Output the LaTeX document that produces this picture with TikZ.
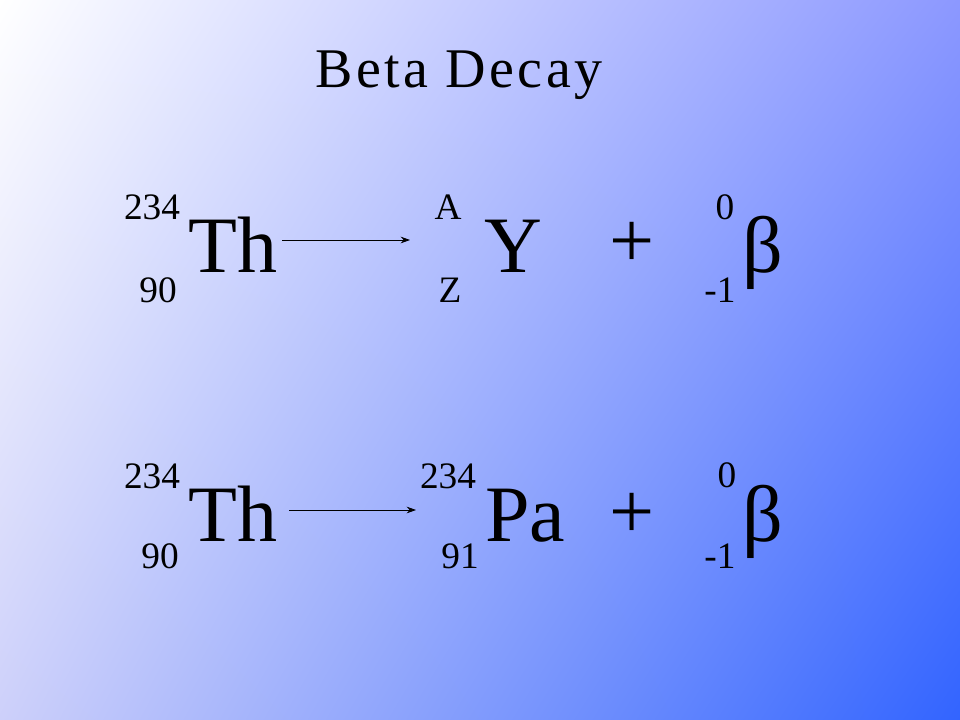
\documentclass[tikz,border=0pt]{standalone}
\usepackage{fontspec}
\setmainfont{Liberation Serif}
\usetikzlibrary{arrows.meta,shadings}
\definecolor{cUR}{RGB}{140,152,255}
\definecolor{cLL}{RGB}{205,208,250}
\definecolor{cLR}{RGB}{50,100,255}
\begin{document}
\begin{tikzpicture}[x=0.75pt,y=-0.75pt,
  big/.style={anchor=base,inner sep=0pt,font=\fontsize{60}{60}\selectfont},
  small/.style={anchor=base,inner sep=0pt,font=\fontsize{28}{28}\selectfont},
  rxn/.style={-{Stealth[length=7pt,width=5pt]},line width=0.6pt}]
\useasboundingbox (0,0) rectangle (960,720);
\shade[upper left=white, upper right=cUR, lower left=cLL, lower right=cLR] (0,0) rectangle (960,720);
\node[anchor=base,inner sep=0pt,font=\fontsize{42}{42}\selectfont\addfontfeature{LetterSpace=6}] (title) at (459,88) {Beta Decay};
% row 1
\node[small] (a1) at (152,220) {234};
\node[small] (b1) at (158,302) {90};
\node[big] (th1) at (233,273) {Th};
\node[small] (a2) at (448,220) {A};
\node[small] (b2) at (450,302) {Z};
\node[big] (y) at (513,273) {Y};
\node[big] (p1) at (632,268) {+};
\node[small] (a3) at (725,220) {0};
\node[small] (b3) at (720,302) {-1};
\node[big] (be1) at (763,273) {β};
\coordinate (s1) at (282,240); \coordinate (e1) at (410,240);
\draw[rxn] (s1) -- (e1);
% row 2
\node[small] (c1) at (152,488) {234};
\node[small] (d1) at (160,568) {90};
\node[big] (th2) at (233,541) {Th};
\node[small] (c2) at (448,488) {234};
\node[small] (d2) at (460,568) {91};
\node[big] (pa) at (525,541) {Pa};
\node[big] (p2) at (632,538) {+};
\node[small] (c3) at (727,487) {0};
\node[small] (d3) at (720,568) {-1};
\node[big] (be2) at (763,541) {β};
\coordinate (s2) at (289,510); \coordinate (e2) at (416,510);
\draw[rxn] (s2) -- (e2);
\end{tikzpicture}
\end{document}
